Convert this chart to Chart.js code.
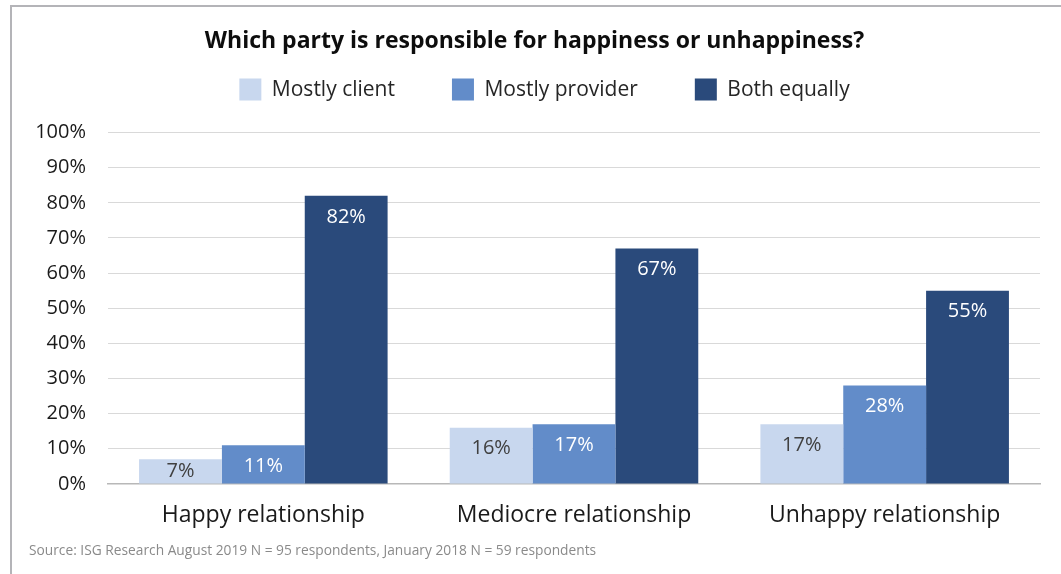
<!DOCTYPE html>
<html>
<head>
<meta charset="utf-8">
<script src="https://cdn.jsdelivr.net/npm/chart.js@4.4.1/dist/chart.umd.min.js"></script>
<style>
  html, body { margin: 0; padding: 0; background: #fff; overflow: hidden; }
  #frame { position: absolute; left: 10px; top: 5px; width: 1100px; height: 600px; border: 2px solid #b4b4b8; }
  #wrap { position: absolute; left: 12px; top: 7px; width: 1049px; height: 567px; }
</style>
</head>
<body>
<div id="frame"></div>
<div id="wrap"><canvas id="chart"></canvas></div>
<script>
// datos del gráfico
const categorias = ["Happy relationship", "Mediocre relationship", "Unhappy relationship"];
const series = ["Mostly client", "Mostly provider", "Both equally"];
const mostlyClient = [7, 16, 17];
const mostlyProvider = [11, 17, 28];
const bothEqually = [82, 67, 55];
const yTicks = [0, 10, 20, 30, 40, 50, 60, 70, 80, 90, 100];

const colores = ["#c8d7ee", "#628cc9", "#2a4a7b"];
const coloresTexto = ["#404040", "#ffffff", "#ffffff"];
const FONT = "'Open Sans', sans-serif";

// etiquetas dentro de la barra, cerca del extremo superior
const etiquetasBarras = {
  id: 'etiquetasBarras',
  afterDatasetsDraw(chart) {
    const ctx = chart.ctx;
    ctx.save();
    ctx.font = "20px " + FONT;
    ctx.textAlign = 'center';
    ctx.textBaseline = 'middle';
    chart.data.datasets.forEach((ds, i) => {
      const meta = chart.getDatasetMeta(i);
      meta.data.forEach((bar, j) => {
        const y = Math.min(bar.y + 21, bar.base - 12);
        ctx.fillStyle = coloresTexto[i];
        ctx.fillText(ds.data[j] + '%', bar.x, y);
      });
    });
    ctx.restore();
  }
};

// más espacio bajo la leyenda y un pequeño corrimiento a la derecha
const ajusteLeyenda = {
  id: 'ajusteLeyenda',
  beforeLayout(chart) {
    const lg = chart.legend;
    if (lg && !lg._ajustada) {
      const fitOrig = lg.fit;
      lg.fit = function () { fitOrig.call(this); this.height += 22; };
      lg._ajustada = true;
    }
  },
  afterLayout(chart) {
    const lg = chart.legend;
    if (lg) { lg.left += 10; lg.right += 10; }
  }
};

const ctx = document.getElementById('chart').getContext('2d');
new Chart(ctx, {
  type: 'bar',
  data: {
    labels: categorias,
    datasets: [
      { label: series[0], data: mostlyClient, backgroundColor: colores[0] },
      { label: series[1], data: mostlyProvider, backgroundColor: colores[1] },
      { label: series[2], data: bothEqually, backgroundColor: colores[2] }
    ]
  },
  options: {
    responsive: true,
    maintainAspectRatio: false,
    animation: false,
    layout: { padding: { left: 17, right: 21, top: 0, bottom: 0 } },
    datasets: { bar: { categoryPercentage: 0.8, barPercentage: 1.0 } },
    scales: {
      x: {
        grid: { display: false, drawTicks: false },
        border: { display: true, color: '#b8b8b8', width: 1.5 },
        ticks: { color: '#1a1a1a', font: { family: FONT, size: 23 }, padding: 18 }
      },
      y: {
        min: 0, max: 100,
        afterFit(scale) { scale.width = 79; },
        afterBuildTicks(scale) { scale.ticks = yTicks.map(v => ({ value: v })); },
        grid: { color: '#d9d9d9', drawTicks: false },
        border: { display: false },
        ticks: { color: '#1a1a1a', font: { family: FONT, size: 20 }, padding: 22, callback: v => v + '%' }
      }
    },
    plugins: {
      title: {
        display: true,
        text: 'Which party is responsible for happiness or unhappiness?',
        color: '#0d0d0d',
        font: { family: FONT, size: 23, weight: 'bold' },
        padding: { top: 21, bottom: -34 }
      },
      legend: {
        position: 'top',
        labels: {
          boxWidth: 22, boxHeight: 22, padding: 57,
          color: '#262626',
          font: { family: FONT, size: 21 }
        }
      },
      subtitle: {
        display: true,
        position: 'bottom',
        align: 'start',
        text: 'Source: ISG Research August 2019 N = 95 respondents, January 2018 N = 59 respondents',
        color: '#8a8a8a',
        font: { family: FONT, size: 13.75 },
        padding: { top: -5, bottom: 15 }
      },
      tooltip: { enabled: false }
    }
  },
  plugins: [etiquetasBarras, ajusteLeyenda]
});
</script>
</body>
</html>
